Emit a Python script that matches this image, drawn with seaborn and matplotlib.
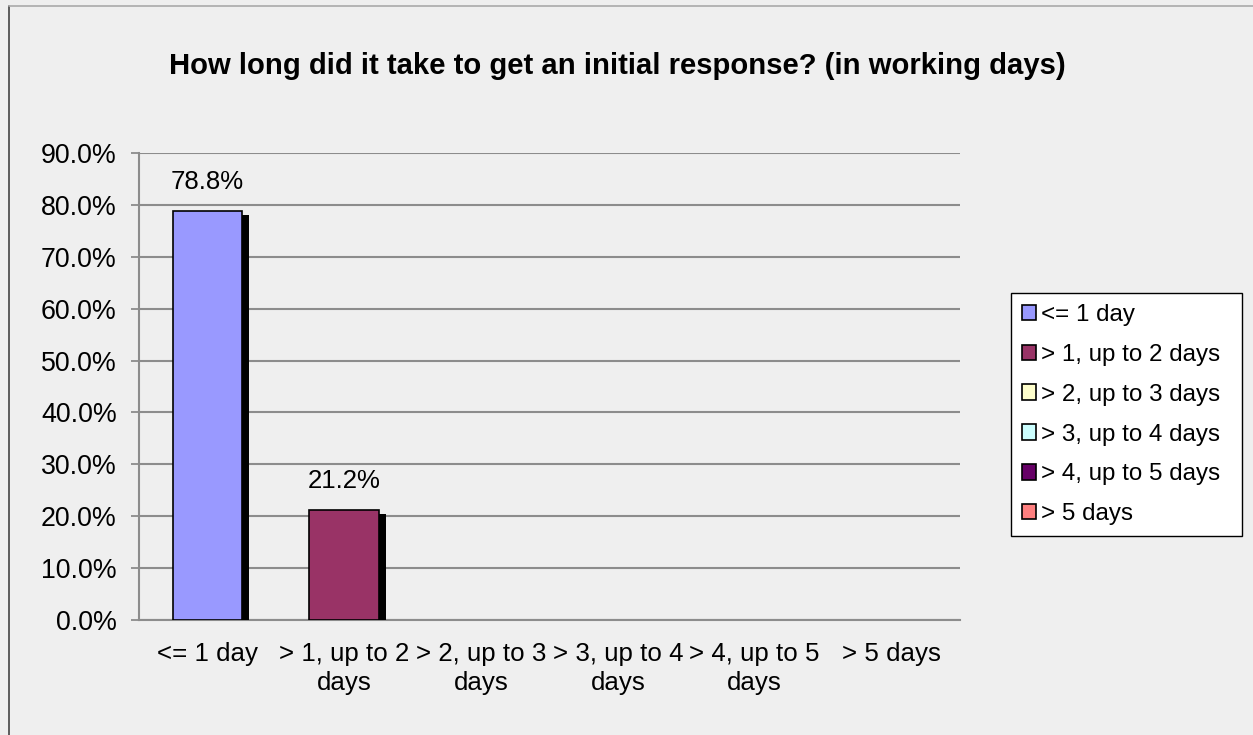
import matplotlib
matplotlib.use("Agg")
import matplotlib.pyplot as plt
import matplotlib.patheffects as pe
from matplotlib.patches import Patch
from matplotlib.ticker import FuncFormatter, FixedLocator
from matplotlib.lines import Line2D
import seaborn as sns
import pandas as pd

# Survey results: time to first response
categories = ["<= 1 day", "> 1, up to 2 days", "> 2, up to 3 days",
              "> 3, up to 4 days", "> 4, up to 5 days", "> 5 days"]
tick_labels = ["<= 1 day", "> 1, up to 2\ndays", "> 2, up to 3\ndays",
               "> 3, up to 4\ndays", "> 4, up to 5\ndays", "> 5 days"]
shares = [0.788, 0.212, 0.0, 0.0, 0.0, 0.0]
colors = ["#9999FF", "#993366", "#FFFFCC", "#CCFFFF", "#660066", "#FF8080"]
title = "How long did it take to get an initial response? (in working days)"

sns.set_style("white")
plt.rcParams["font.family"] = ["Liberation Sans", "DejaVu Sans"]
plt.rcParams["text.color"] = "black"

df = pd.DataFrame({"category": categories, "share": shares})
palette = dict(zip(categories, colors))

fig = plt.figure(figsize=(12.53, 7.35), dpi=100, facecolor="#EFEFEF")
ax = fig.add_axes([139 / 1253, 1 - 620 / 735, (960 - 139) / 1253, (620 - 153) / 735])
ax.set_facecolor("#EFEFEF")

sns.barplot(data=df, x="category", y="share", hue="category", palette=palette,
            order=categories, hue_order=categories, dodge=False, width=0.51,
            saturation=1, edgecolor="black", linewidth=1.2, legend=False,
            ax=ax, zorder=3)

shadow = [pe.SimplePatchShadow(offset=(5, -3), shadow_rgbFace="black", alpha=1.0),
          pe.Normal()]
for bar, val in zip(ax.patches, shares):
    if val > 0:
        bar.set_path_effects(shadow)
        ax.annotate(f"{val * 100:.1f}%", (bar.get_x() + bar.get_width() / 2, val),
                    xytext=(0, 12), textcoords="offset points",
                    ha="center", va="bottom", fontsize=18.5, color="black")
    else:
        bar.set_visible(False)

ax.set_ylim(0, 0.9)
ax.set_xlim(-0.5, len(categories) - 0.5)
ax.yaxis.set_major_locator(FixedLocator([i / 10 for i in range(10)]))
ax.yaxis.set_major_formatter(FuncFormatter(lambda v, _: f"{v * 100:.1f}%"))
ax.grid(axis="y", color="#8C8C8C", linewidth=1.5, zorder=0)
ax.set_axisbelow(True)

ax.set_xticks(range(len(categories)))
ax.set_xticklabels(tick_labels, fontsize=18.6, linespacing=1.25)
ax.set_xticks([i - 0.5 for i in range(len(categories) + 1)], minor=True)
ax.tick_params(axis="x", which="major", length=0, pad=16, labelcolor="black")
ax.tick_params(axis="x", which="minor", length=5, width=1.3, color="#8C8C8C", direction="out")
ax.tick_params(axis="y", length=6, width=1.3, color="#8C8C8C", labelsize=19.3, pad=10,
               left=True, direction="out", labelcolor="black")
ax.set_xlabel("")
ax.set_ylabel("")

for side in ["top", "right"]:
    ax.spines[side].set_visible(False)
for side in ["left", "bottom"]:
    ax.spines[side].set_color("#8C8C8C")
    ax.spines[side].set_linewidth(1.5)

fig.text(617 / 1253, 1 - 74 / 735, title, ha="center", va="baseline",
         fontsize=21.1, fontweight="bold", color="black")

handles = [Patch(facecolor=c, edgecolor="black", linewidth=1.2) for c in colors]
leg = fig.legend(handles, categories, loc="upper left",
                 bbox_to_anchor=(1011 / 1253, 1 - 532 / 735, 231 / 1253, 239 / 735),
                 mode="expand",
                 fontsize=17.4, frameon=True, fancybox=False, edgecolor="black",
                 facecolor="white", framealpha=1, handlelength=0.6, handleheight=0.6,
                 handletextpad=0.2, labelspacing=0.74, borderpad=0.45,
                 borderaxespad=0, labelcolor="black")
leg.get_frame().set_linewidth(1.0)

# outer chart border
fig.add_artist(Line2D([8.5 / 1253, 8.5 / 1253], [0, 1 - 6 / 735],
                      transform=fig.transFigure, color="#444444", linewidth=1.2))
fig.add_artist(Line2D([8.5 / 1253, 1], [1 - 6 / 735, 1 - 6 / 735],
                      transform=fig.transFigure, color="#AAAAAA", linewidth=1.2))

fig.savefig("out.png", dpi=100, facecolor=fig.get_facecolor())
